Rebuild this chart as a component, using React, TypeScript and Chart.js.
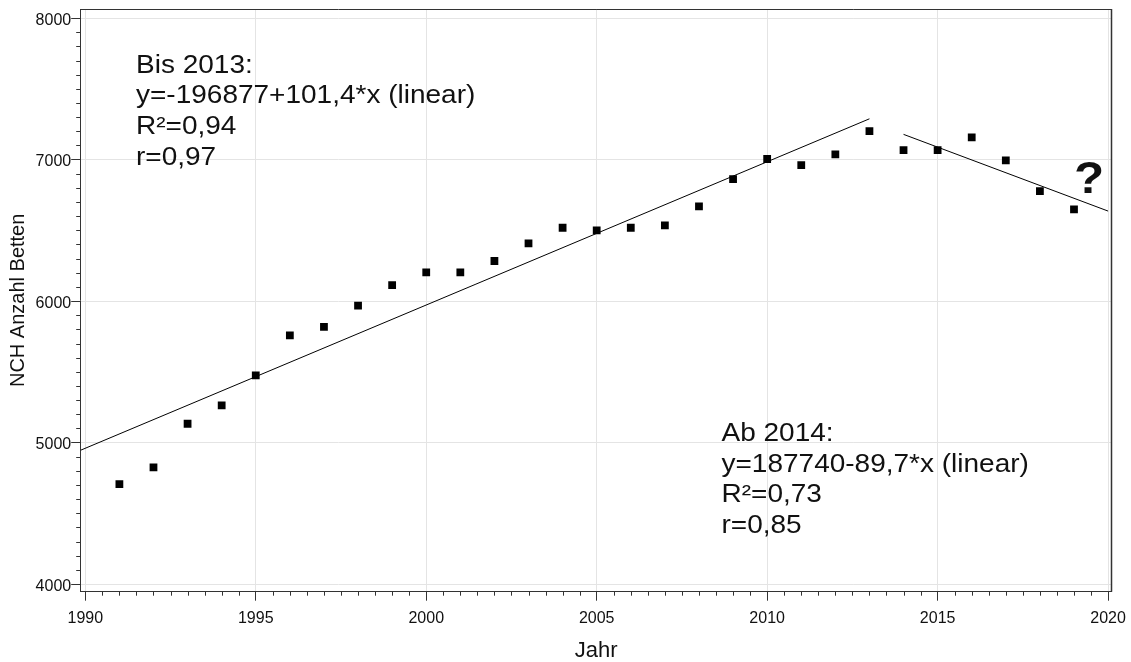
import { useEffect, useRef } from 'react';
import { Chart, registerables } from 'chart.js';

Chart.register(...registerables);

// ---- data ----
const years = [1991, 1992, 1993, 1994, 1995, 1996, 1997, 1998, 1999, 2000, 2001, 2002, 2003, 2004, 2005, 2006, 2007, 2008, 2009, 2010, 2011, 2012, 2013, 2014, 2015, 2016, 2017, 2018, 2019];
const beds = [4707, 4825, 5133, 5263, 5475, 5758, 5818, 5967, 6112, 6203, 6203, 6283, 6408, 6518, 6500, 6518, 6535, 6669, 6862, 7004, 6961, 7037, 7201, 7067, 7067, 7157, 6994, 6777, 6648];
const trendBisX = [1989.865, 2013];
const trendBisY = [4946, 7288];
const trendAbX = [2014, 2020];
const trendAbY = [7178, 6636];
const xTickValues = [1990, 1995, 2000, 2005, 2010, 2015, 2020];
const yTickValues = [4000, 5000, 6000, 7000, 8000];
const xMinorStep = 0.5;
const yMinorStep = 100;
const noteBis = ['Bis 2013:', 'y=-196877+101,4*x (linear)', 'R²=0,94', 'r=0,97'];
const noteAb = ['Ab 2014:', 'y=187740-89,7*x (linear)', 'R²=0,73', 'r=0,85'];
const questionMark = '?';
const xTitle = 'Jahr';
const yTitle = 'NCH Anzahl Betten';

const FONT = '"Liberation Sans", Arial, Helvetica, sans-serif';
const AXIS = '#333333';
const GRID = '#e4e4e4';
const TEXT = '#111111';

const decorPlugin = {
  id: 'decor',
  afterDraw(chart: any) {
    const { ctx, chartArea, scales } = chart;
    const x = scales.x;
    const y = scales.y;
    ctx.save();
    // frame top/right
    ctx.strokeStyle = AXIS;
    ctx.lineWidth = 1;
    ctx.beginPath();
    ctx.moveTo(chartArea.left, Math.round(chartArea.top) + 0.5);
    ctx.lineTo(chartArea.right, Math.round(chartArea.top) + 0.5);
    ctx.stroke();
    ctx.lineWidth = 1.5;
    ctx.beginPath();
    ctx.moveTo(chartArea.right, chartArea.top);
    ctx.lineTo(chartArea.right, chartArea.bottom);
    ctx.stroke();
    // minor ticks
    ctx.lineWidth = 1;
    ctx.beginPath();
    const x0 = xTickValues[0];
    const x1 = xTickValues[xTickValues.length - 1];
    for (let v = x0; v <= x1 + 1e-9; v += xMinorStep) {
      if (Math.abs(v % 5) < 1e-9) continue;
      const px = Math.round(x.getPixelForValue(v)) + 0.5;
      ctx.moveTo(px, chartArea.bottom);
      ctx.lineTo(px, chartArea.bottom + 4);
    }
    const y0 = yTickValues[0];
    const y1 = yTickValues[yTickValues.length - 1];
    for (let v = y0; v <= y1 + 1e-9; v += yMinorStep) {
      if (Math.abs(v % 1000) < 1e-9) continue;
      const py = Math.round(y.getPixelForValue(v)) + 0.5;
      ctx.moveTo(chartArea.left, py);
      ctx.lineTo(chartArea.left - 4.5, py);
    }
    ctx.stroke();

    // annotations
    ctx.fillStyle = TEXT;
    ctx.textBaseline = 'alphabetic';
    ctx.textAlign = 'left';
    ctx.font = `25px ${FONT}`;
    const drawBlock = (lines: string[], left: number, base: number) => {
      lines.forEach((t, i) => {
        ctx.save();
        ctx.translate(left, base + i * 30.7);
        ctx.scale(1.12, 1);
        ctx.fillText(t, 0, 0);
        ctx.restore();
      });
    };
    drawBlock(noteBis, 136, 72.5);
    drawBlock(noteAb, 721.5, 441);

    ctx.font = `bold 44px ${FONT}`;
    ctx.textAlign = 'center';
    ctx.save();
    ctx.translate(1089, 192.7);
    ctx.scale(1.12, 1);
    ctx.fillText(questionMark, 0, 0);
    ctx.restore();

    ctx.restore();
  },
};

export default function App() {
  const ref = useRef<HTMLCanvasElement | null>(null);
  useEffect(() => {
    if (!ref.current) return;
    const points = years.map((yr, i) => ({ x: yr, y: beds[i] }));
    const t1 = trendBisX.map((v, i) => ({ x: v, y: trendBisY[i] }));
    const t2 = trendAbX.map((v, i) => ({ x: v, y: trendAbY[i] }));
    const chart = new Chart(ref.current, {
      type: 'scatter',
      data: {
        datasets: [
          {
            label: 'NCH Anzahl Betten',
            data: points,
            pointStyle: 'rect',
            pointRadius: 5.5,
            pointHoverRadius: 5.5,
            backgroundColor: '#000000',
            borderWidth: 0,
            showLine: false,
          },
          {
            label: 'Bis 2013',
            data: t1,
            showLine: true,
            borderColor: '#000000',
            borderWidth: 1,
            pointRadius: 0,
            fill: false,
          },
          {
            label: 'Ab 2014',
            data: t2,
            showLine: true,
            borderColor: '#000000',
            borderWidth: 1,
            pointRadius: 0,
            fill: false,
          },
        ],
      },
      options: {
        animation: false,
        responsive: false,
        devicePixelRatio: 1,
        layout: { padding: { left: 0, top: 9, right: 19.5, bottom: 0 } },
        plugins: {
          legend: { display: false },
          tooltip: { enabled: false },
          title: { display: false },
        },
        scales: {
          x: {
            type: 'linear',
            min: 1989.865,
            max: 2020.1,
            afterBuildTicks: (scale: any) => {
              scale.ticks = xTickValues.map((v) => ({ value: v }));
            },
            afterFit: (scale: any) => {
              scale.height = 70.3;
              scale.paddingLeft = 0;
              scale.paddingRight = 0;
            },
            ticks: {
              autoSkip: false,
              maxRotation: 0,
              padding: 8,
              color: TEXT,
              font: { family: FONT, size: 16 },
              callback: (v: any) => String(v),
            },
            grid: {
              color: GRID,
              lineWidth: 1,
              drawTicks: true,
              tickLength: 9,
              tickColor: AXIS,
              tickWidth: 1,
            },
            border: { display: true, color: AXIS, width: 1 },
            title: {
              display: true,
              text: xTitle,
              color: TEXT,
              font: { family: FONT, size: 22 },
              padding: { top: 0, bottom: -2.2 },
            },
          },
          y: {
            type: 'linear',
            min: 3946,
            max: 8064,
            afterBuildTicks: (scale: any) => {
              scale.ticks = yTickValues.map((v) => ({ value: v }));
            },
            afterFit: (scale: any) => {
              scale.width = 80.7;
              scale.paddingTop = 0;
              scale.paddingBottom = 0;
            },
            ticks: {
              autoSkip: false,
              padding: 0,
              labelOffset: 2.5,
              color: TEXT,
              font: { family: FONT, size: 16 },
              callback: (v: any) => String(v),
            },
            grid: {
              color: GRID,
              lineWidth: 1,
              drawTicks: true,
              tickLength: 9.5,
              tickColor: AXIS,
              tickWidth: 1,
            },
            border: { display: true, color: AXIS, width: 1 },
            title: {
              display: true,
              text: yTitle,
              color: TEXT,
              font: { family: FONT, size: 20 },
              padding: { top: 6.5, bottom: 0 },
            },
          },
        },
      },
      plugins: [decorPlugin],
    });
    return () => chart.destroy();
  }, []);

  return (
    <div style={{ position: 'absolute', left: 0, top: 0, width: 1131, height: 662, background: '#ffffff' }}>
      <canvas ref={ref} width={1131} height={662} style={{ display: 'block' }} />
    </div>
  );
}
